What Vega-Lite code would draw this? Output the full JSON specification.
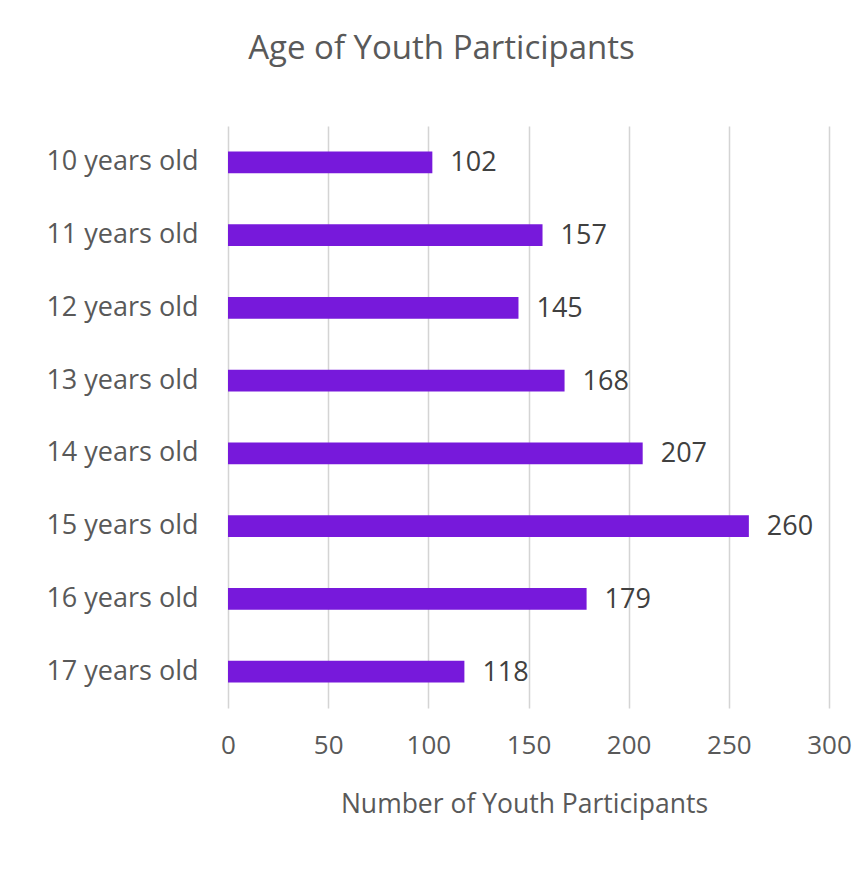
{
  "$schema": "https://vega.github.io/schema/vega-lite/v6.json",
  "width": 601,
  "height": 582,
  "autosize": {"type": "none"},
  "padding": {"left": 228, "top": 126, "right": 32, "bottom": 171},
  "background": "white",
  "title": {
    "text": "Age of Youth Participants",
    "font": "Open Sans",
    "fontSize": 33,
    "fontWeight": "normal",
    "color": "#595959",
    "anchor": "middle",
    "dx": -87,
    "offset": 60
  },
  "data": {
    "values": [
      {"age": "10 years old", "count": 102},
      {"age": "11 years old", "count": 157},
      {"age": "12 years old", "count": 145},
      {"age": "13 years old", "count": 168},
      {"age": "14 years old", "count": 207},
      {"age": "15 years old", "count": 260},
      {"age": "16 years old", "count": 179},
      {"age": "17 years old", "count": 118}
    ]
  },
  "encoding": {
    "y": {
      "field": "age",
      "type": "nominal",
      "sort": null,
      "scale": {"paddingInner": 0.7, "paddingOuter": 0.35},
      "axis": {
        "title": null,
        "domain": false,
        "ticks": false,
        "grid": false,
        "labelPadding": 30,
        "labelFont": "Open Sans",
        "labelFontSize": 27,
        "labelColor": "#595959"
      }
    },
    "x": {
      "field": "count",
      "type": "quantitative",
      "scale": {"domain": [0, 300], "nice": false},
      "axis": {
        "title": "Number of Youth Participants",
        "values": [0, 50, 100, 150, 200, 250, 300],
        "domain": false,
        "ticks": false,
        "grid": true,
        "gridColor": "#d4d4d4",
        "gridWidth": 1.5,
        "labelFlush": false,
        "labelPadding": 24,
        "labelFont": "Open Sans",
        "labelFontSize": 26,
        "labelColor": "#595959",
        "titleFont": "Open Sans",
        "titleFontSize": 26.5,
        "titleFontWeight": "normal",
        "titleColor": "#595959",
        "titlePadding": 33,
        "titleX": 296
      }
    }
  },
  "layer": [
    {"mark": {"type": "bar", "color": "#7719DB"}},
    {
      "mark": {"type": "text", "align": "left", "baseline": "middle", "dx": 18, "dy": 1, "font": "Open Sans", "fontSize": 27, "color": "#404040"},
      "encoding": {"text": {"field": "count", "type": "quantitative"}}
    }
  ],
  "config": {"view": {"stroke": null}}
}
